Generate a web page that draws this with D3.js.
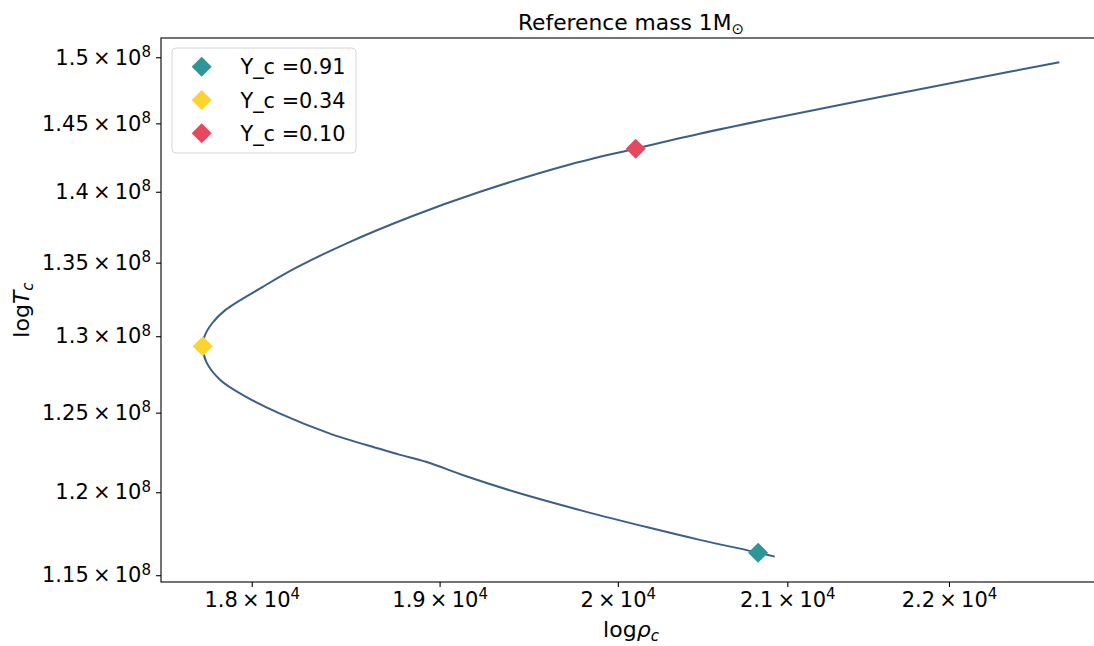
<!DOCTYPE html>
<html lang="en">

<head>
    <meta charset="UTF-8">
    <title>Reference mass 1M</title>
    <style>
        body {
            margin: 0;
            background: #fff;
        }

        svg text {
            font-family: "DejaVu Sans", sans-serif;
            fill: #000;
        }
    </style>
</head>

<body>
    <svg id="chart" width="1094" height="646"></svg>
    <script src="https://cdn.jsdelivr.net/npm/d3@7"></script>

    <script>
        // central density / temperature track, from the start of the run to the end
        const rho = [20924, 20824, 20477, 20184, 19800, 19424, 19146, 18926, 18781, 18673,
            18406, 18144, 17971, 17839, 17766, 17748, 17756, 17795, 17863, 18057,
            18232, 18496, 18853, 19219, 19705, 20103, 20477, 20954, 21567, 22197, 22710];
        const temp = [1.1610e8, 1.1634e8, 1.17105e8, 1.1783e8, 1.1886e8, 1.2000e8, 1.2099e8, 1.2189e8, 1.2234e8, 1.2271e8,
            1.2368e8, 1.2495e8, 1.2602e8, 1.2710e8, 1.2830e8, 1.2929e8, 1.2996e8, 1.3085e8, 1.3175e8, 1.3333e8,
            1.3465e8, 1.3633e8, 1.3827e8, 1.3998e8, 1.4190e8, 1.4313e8, 1.4423e8, 1.4548e8, 1.4697e8, 1.4845e8, 1.4961e8];

        // Y_c markers
        const markerLabels = ["Y_c =0.91", "Y_c =0.34", "Y_c =0.10"];
        const markerRho = [20824, 17748, 20103];
        const markerTemp = [1.1634e8, 1.2934e8, 1.4313e8];
        const markerColors = ["#2e9698", "#fdd330", "#e8485e"];

        // tick values and their labels (mantissa, exponent)
        const xTicks = [18000, 19000, 20000, 21000, 22000];
        const xTickMant = ["1.8", "1.9", "2", "2.1", "2.2"];
        const yTicks = [1.15e8, 1.2e8, 1.25e8, 1.3e8, 1.35e8, 1.4e8, 1.45e8, 1.5e8];
        const yTickMant = ["1.15", "1.2", "1.25", "1.3", "1.35", "1.4", "1.45", "1.5"];

        const plotL = 161, plotR = 1101, plotT = 38, plotB = 582;
        const svg = d3.select("#chart");

        const x = d3.scaleLog().domain([17536, 22984]).range([plotL, plotR]);
        const y = d3.scaleLog().domain([1.1460e8, 1.5149e8]).range([plotB, plotT]);

        function sciLabel(sel, mant, exp) {
            sel.text(null);
            sel.append("tspan").text(mant + "\u2009\u00d7\u200910");
            sel.append("tspan").attr("dy", "-0.5em").style("font-size", "15px").text(exp);
        }

        // axes
        const xAxis = svg.append("g")
            .attr("transform", `translate(0,${plotB})`)
            .call(d3.axisBottom(x).tickValues(xTicks).tickSize(5).tickPadding(5));
        xAxis.select(".domain").remove();
        xAxis.selectAll(".tick line").attr("stroke", "#000").attr("stroke-width", 1.1);
        xAxis.selectAll(".tick text")
            .attr("font-size", null).attr("font-family", null)
            .style("font-size", "21px")
            .each(function (d, i) { sciLabel(d3.select(this), xTickMant[i], "4"); });

        const yAxis = svg.append("g")
            .attr("transform", `translate(${plotL},0)`)
            .call(d3.axisLeft(y).tickValues(yTicks).tickSize(5).tickPadding(5));
        yAxis.select(".domain").remove();
        yAxis.selectAll(".tick line").attr("stroke", "#000").attr("stroke-width", 1.1);
        yAxis.selectAll(".tick text")
            .attr("font-size", null).attr("font-family", null)
            .style("font-size", "21px")
            .each(function (d, i) { sciLabel(d3.select(this), yTickMant[i], "8"); });

        // frame
        svg.append("rect")
            .attr("x", plotL).attr("y", plotT)
            .attr("width", plotR - plotL).attr("height", plotB - plotT)
            .attr("fill", "none").attr("stroke", "#000").attr("stroke-width", 1.1);

        // track
        const line = d3.line()
            .x((d, i) => x(rho[i]))
            .y((d, i) => y(temp[i]))
            .curve(d3.curveCatmullRom.alpha(0.5));

        svg.append("path")
            .datum(rho)
            .attr("d", line)
            .attr("fill", "none")
            .attr("stroke", "#3b5f86")
            .attr("stroke-width", 2);

        const diamond = d3.symbol(d3.symbolSquare, 200);

        svg.selectAll(".marker")
            .data(markerLabels)
            .enter().append("path")
            .attr("class", "marker")
            .attr("d", diamond)
            .attr("fill", (d, i) => markerColors[i])
            .attr("transform", (d, i) => `translate(${x(markerRho[i])},${y(markerTemp[i])}) rotate(45)`);

        // legend
        const legend = svg.append("g");
        legend.append("rect")
            .attr("x", 172).attr("y", 48)
            .attr("width", 184).attr("height", 105)
            .attr("rx", 4)
            .attr("fill", "#fff").attr("fill-opacity", 0.8)
            .attr("stroke", "#d6d6d6");

        const item = legend.selectAll(".item")
            .data(markerLabels)
            .enter().append("g")
            .attr("transform", (d, i) => `translate(0,${66.7 + i * 33.3})`);
        item.append("path")
            .attr("d", diamond)
            .attr("fill", (d, i) => markerColors[i])
            .attr("transform", "translate(201.7,0) rotate(45)");
        item.append("text")
            .attr("x", 240.5)
            .attr("dy", "0.36em")
            .style("font-size", "20.8px")
            .text(d => d);

        // title
        const title = svg.append("text")
            .attr("x", 631).attr("y", 30)
            .attr("text-anchor", "middle")
            .style("font-size", "21.8px");
        title.append("tspan").text("Reference mass 1M");
        title.append("tspan").attr("dy", "0.25em").style("font-size", "15px").text("\u2299");

        // axis labels
        const xl = svg.append("text")
            .attr("x", 631).attr("y", 637)
            .attr("text-anchor", "middle")
            .style("font-size", "22px");
        xl.append("tspan").text("log");
        xl.append("tspan").style("font-style", "italic").text("\u03c1");
        xl.append("tspan").attr("dy", "0.25em").style("font-style", "italic").style("font-size", "15px").text("c");

        const yl = svg.append("text")
            .attr("transform", `translate(29,${(plotT + plotB) / 2}) rotate(-90)`)
            .attr("text-anchor", "middle")
            .style("font-size", "22px");
        yl.append("tspan").text("log");
        yl.append("tspan").style("font-style", "italic").text("T");
        yl.append("tspan").attr("dy", "0.25em").style("font-style", "italic").style("font-size", "15px").text("c");
    </script>

</body>

</html>
